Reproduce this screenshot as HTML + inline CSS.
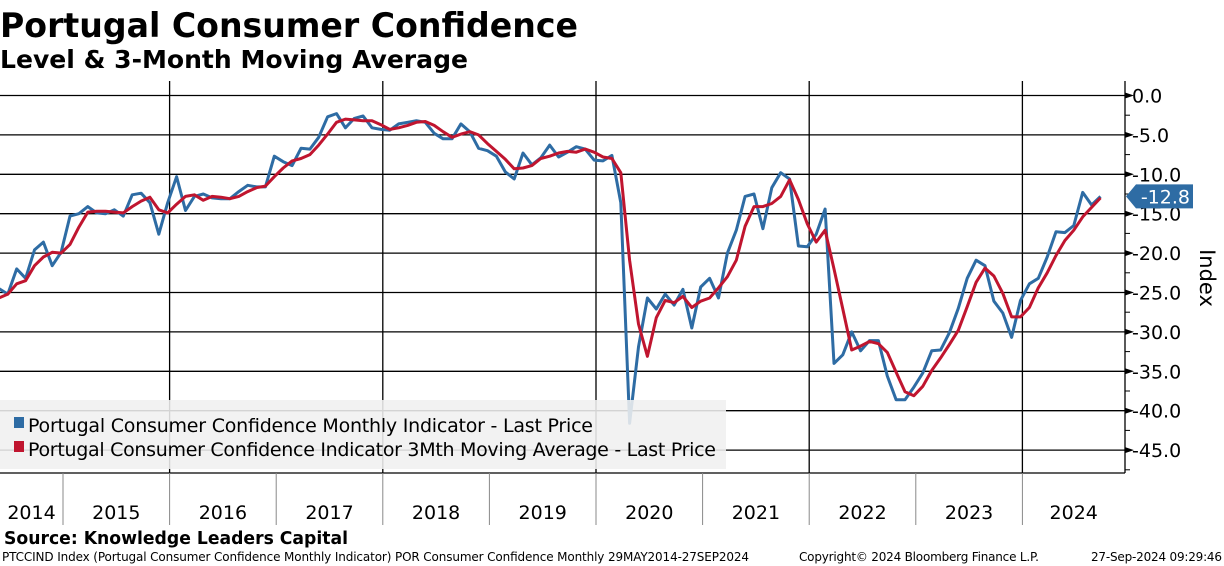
<!DOCTYPE html>
<html><head><meta charset="utf-8"><style>
body{margin:0;background:#fff;width:1224px;height:566px;overflow:hidden;font-family:"DejaVu Sans","Liberation Sans",sans-serif}
svg{position:absolute;left:0;top:0}
</style></head><body>
<svg id="c" width="1224" height="566">
<text x="0" y="37" font-size="34" font-weight="bold" font-family="DejaVu Sans,sans-serif" textLength="578" lengthAdjust="spacingAndGlyphs">Portugal Consumer Confidence</text>
<text x="0" y="68" font-size="25" font-weight="bold" font-family="DejaVu Sans,sans-serif" textLength="468" lengthAdjust="spacingAndGlyphs">Level &amp; 3-Month Moving Average</text>
<g id="grid"></g>
<g id="series"></g>
<g id="legend">
<rect x="0" y="400" width="726" height="69" fill="rgba(240,240,240,0.88)"/>
<rect x="14" y="417" width="10" height="11" fill="#2e6ca4"/>
<text x="28" y="432" font-size="19" font-family="DejaVu Sans,sans-serif" textLength="565">Portugal Consumer Confidence Monthly Indicator - Last Price</text>
<rect x="14" y="441" width="10" height="11" fill="#c0152f"/>
<text x="28" y="456" font-size="19" font-family="DejaVu Sans,sans-serif" textLength="688">Portugal Consumer Confidence Indicator 3Mth Moving Average - Last Price</text>
</g>
<g id="axes"></g>
<text transform="translate(1200,278) rotate(90)" font-size="21" text-anchor="middle" font-family="DejaVu Sans,sans-serif">Index</text>
<text x="4" y="544" font-size="18" font-weight="bold" font-family="DejaVu Sans,sans-serif" textLength="344" lengthAdjust="spacingAndGlyphs">Source: Knowledge Leaders Capital</text>
<text x="2" y="561" font-size="12" font-family="DejaVu Sans,sans-serif" textLength="747">PTCCIND Index (Portugal Consumer Confidence Monthly Indicator) POR Consumer Confidence  Monthly 29MAY2014-27SEP2024</text>
<text x="799" y="561" font-size="12" font-family="DejaVu Sans,sans-serif" textLength="240">Copyright© 2024 Bloomberg Finance L.P.</text>
<text x="1091" y="561" font-size="12" font-family="DejaVu Sans,sans-serif" textLength="131">27-Sep-2024 09:29:46</text>
</svg>
<script>
const startMonth = 4; // May 2014, months from Jan 2014
const monthly = [-24.5,-25.2,-22.0,-23.2,-19.6,-18.6,-21.6,-19.9,
-15.3,-15.0,-14.1,-14.9,-15.0,-14.5,-15.3,-12.6,-12.4,-13.6,-17.6,-13.6,
-10.3,-14.6,-12.8,-12.5,-13.0,-13.1,-13.1,-12.2,-11.4,-11.6,-11.6,-7.7,
-8.4,-8.9,-6.7,-6.8,-5.3,-2.7,-2.3,-4.1,-2.9,-2.6,-4.1,-4.3,
-4.4,-3.6,-3.4,-3.2,-3.4,-4.8,-5.5,-5.5,-3.6,-4.6,-6.7,-7.0,
-7.7,-9.7,-10.6,-7.3,-8.8,-7.9,-6.3,-7.8,-7.2,-6.5,-6.8,-8.2,
-8.3,-7.6,-13.6,-41.6,-31.9,-25.7,-27.1,-25.2,-26.6,-24.6,-29.5,-24.3,
-23.2,-25.7,-20.0,-17.1,-12.8,-12.5,-16.9,-11.7,-9.8,-10.6,-19.1,-19.2,
-17.6,-14.4,-34.0,-32.9,-30.0,-32.4,-31.1,-31.1,-35.6,-38.6,-38.6,-37.0,
-35.2,-32.4,-32.3,-30.1,-27.0,-23.2,-20.9,-21.6,-26.1,-27.6,-30.7,-26.0,
-23.9,-23.2,-20.5,-17.3,-17.4,-16.5,-12.3,-13.9,-12.8];
const movingAvg = [-25.7,-25.2,-23.9,-23.5,-21.6,-20.5,-19.9,-20.0,
-18.9,-16.7,-14.8,-14.7,-14.7,-14.8,-14.9,-14.1,-13.4,-12.9,-14.5,-14.9,
-13.8,-12.8,-12.6,-13.3,-12.8,-12.9,-13.1,-12.8,-12.2,-11.7,-11.5,-10.3,
-9.2,-8.3,-8.0,-7.5,-6.3,-4.9,-3.4,-3.0,-3.1,-3.2,-3.2,-3.7,
-4.3,-4.1,-3.8,-3.4,-3.3,-3.8,-4.6,-5.3,-4.9,-4.6,-5.0,-6.1,
-7.1,-8.1,-9.3,-9.2,-8.9,-8.0,-7.7,-7.3,-7.1,-7.2,-6.8,-7.2,
-7.8,-8.0,-9.8,-20.9,-29.0,-33.1,-28.2,-26.0,-26.3,-25.5,-26.9,-26.1,
-25.7,-24.4,-23.0,-20.9,-16.6,-14.1,-14.1,-13.7,-12.8,-10.7,-13.2,-16.3,
-18.6,-17.1,-22.0,-27.1,-32.3,-31.8,-31.2,-31.5,-32.6,-35.1,-37.6,-38.1,
-36.9,-34.9,-33.3,-31.6,-29.8,-26.8,-23.7,-21.9,-22.9,-25.1,-28.1,-28.1,
-26.9,-24.4,-22.5,-20.3,-18.4,-17.1,-15.4,-14.2,-13.0];
const yTicks = [0,-5,-10,-15,-20,-25,-30,-35,-40,-45];
const yTickLabels = ["0.0","-5.0","-10.0","-15.0","-20.0","-25.0","-30.0","-35.0","-40.0","-45.0"];
const years = ["2014","2015","2016","2017","2018","2019","2020","2021","2022","2023","2024"];
const lastValueLabel = "-12.8";

const NS="http://www.w3.org/2000/svg";
const L=0,R=1125,T=81,B=473;
const yearW=106.6;
function xm(m){return 63+(m-12)*yearW/12+7;}
function xy(yearIdx){return 63+(yearIdx-1)*yearW;}
function yv(v){return 95.5-v*7.88;}
function mk(tag,attrs,parent){const e=document.createElementNS(NS,tag);for(const k in attrs)e.setAttribute(k,attrs[k]);parent.appendChild(e);return e;}
const grid=document.getElementById('grid'),axes=document.getElementById('axes'),series=document.getElementById('series');

yTicks.forEach((t,i)=>{
  const g=mk('line',{x1:L,x2:R,y1:yv(t),y2:yv(t),stroke:'#000','stroke-width':1.3},grid);
  
  
  const a=mk('path',{d:`M${R} ${yv(t)-3}L${R+9} ${yv(t)}L${R} ${yv(t)+3}Z`,fill:'#000'},axes);
  
  
  const tx=mk('text',{x:1132,y:yv(t)+7,'font-size':19,'font-family':'DejaVu Sans,sans-serif'},axes);
  tx.textContent=yTickLabels[i];
  
  
});
for(let v=2.5;v>-50;v-=5){
  if(yv(v)<T||yv(v)>B)continue;
  const m=mk('line',{x1:R,x2:R+5,y1:yv(v),y2:yv(v),stroke:'#000','stroke-width':1},axes);
  
  
}
const ax=mk('line',{x1:R,x2:R,y1:T,y2:B,stroke:'#000','stroke-width':1.3},axes);


const bx=mk('line',{x1:0,x2:R,y1:B,y2:B,stroke:'#000','stroke-width':1.3},axes);



years.forEach((y,i)=>{
  const x0=xy(i),x1=Math.min(xy(i+1),R);
  if(i>0){
    const s=mk('line',{x1:x0,x2:x0,y1:B,y2:525,stroke:'#888','stroke-width':1},axes);
    
    
    if(i%2===0){
      const v=mk('line',{x1:x0,x2:x0,y1:T,y2:B,stroke:'#000','stroke-width':1.3},grid);
      
      
    }
  }
  const cx=(Math.max(x0,0)+x1)/2;
  const t=mk('text',{x:cx,y:519,'font-size':19,'text-anchor':'middle','font-family':'DejaVu Sans,sans-serif'},axes);
  t.textContent=y;
  
  
});

function line(vals,color,name){
  const d=vals.map((v,i)=>(i?'L':'M')+xm(startMonth+i).toFixed(1)+' '+yv(v).toFixed(1)).join('');
  const p=mk('path',{d:d,fill:'none',stroke:color,'stroke-width':3,'stroke-linejoin':'round'},series);
  
  
}
line(monthly,'#2e6ca4','series-monthly');
line(movingAvg,'#c0152f','series-moving-average');

const lv=monthly[monthly.length-1],ly=yv(lv);
const rl=mk('rect',{x:1136,y:ly+8,width:57,height:2,fill:'#c0152f'},axes);


const tag=mk('path',{d:`M1126 ${ly}L1136 ${ly-12}L1193 ${ly-12}L1193 ${ly+12}L1136 ${ly+12}Z`,fill:'#2e6ca4'},axes);


const tt=mk('text',{x:1190,y:ly+7,'font-size':19,fill:'#fff','text-anchor':'end','font-family':'DejaVu Sans,sans-serif'},axes);
tt.textContent=lastValueLabel;


</script>
</body></html>
